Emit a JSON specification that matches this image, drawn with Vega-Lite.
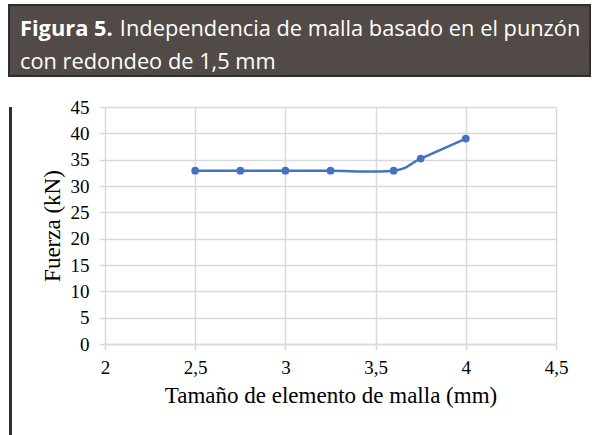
{
  "$schema": "https://vega.github.io/schema/vega-lite/v6.json",
  "background": "#ffffff",
  "padding": {"left": 8, "top": 4, "right": 0, "bottom": 0},
  "spacing": 0,
  "bounds": "full",
  "config": {"view": {"stroke": null}},
  "vconcat": [
    {
      "width": 581,
      "height": 71,
      "data": {"values": [{"bloque": "encabezado"}]},
      "mark": {"type": "rect", "fill": "#524a46", "stroke": "#2e2e2e", "strokeWidth": 2},
      "title": {
        "text": "Figura 5.",
        "subtitle": ["\u200b\u00a0\u00a0\u00a0\u00a0\u00a0\u00a0\u00a0\u00a0\u00a0\u00a0\u00a0\u00a0\u00a0\u00a0\u00a0\u00a0\u00a0\u2009Independencia de malla basado en el punzón", "con redondeo de 1,5 mm"],
        "orient": "top",
        "anchor": "start",
        "frame": "group",
        "offset": -70,
        "dx": 11,
        "font": "Open Sans",
        "fontSize": 21.8,
        "fontWeight": "bold",
        "color": "#ffffff",
        "subtitleFont": "Open Sans",
        "subtitleFontSize": 21.8,
        "subtitleFontWeight": "normal",
        "subtitleColor": "#ffffff",
        "subtitleLineHeight": 33.5,
        "subtitlePadding": -21.8
      }
    },
    {
      "spacing": 29,
      "align": "none",
      "hconcat": [
        {
          "width": 3,
          "height": 360,
          "data": {"values": [{"bloque": "borde"}]},
          "mark": {"type": "rect", "fill": "#2e2e2e"}
        },
        {
          "width": 451,
          "height": 237,
          "data": {"values": [
            {"tamano": 2.5, "fuerza": 32.9},
            {"tamano": 2.75, "fuerza": 32.9},
            {"tamano": 3.0, "fuerza": 32.9},
            {"tamano": 3.25, "fuerza": 32.9},
            {"tamano": 3.6, "fuerza": 32.9},
            {"tamano": 3.75, "fuerza": 35.2},
            {"tamano": 4.0, "fuerza": 39.0}
          ]},
          "encoding": {
            "y": {
              "field": "fuerza", "type": "quantitative",
              "scale": {"domain": [0, 45], "nice": false},
              "axis": {
                "title": "Fuerza (kN)",
                "values": [0, 5, 10, 15, 20, 25, 30, 35, 40, 45],
                "grid": true, "gridColor": "#d9d9d9", "gridWidth": 1.5,
                "domain": false,
                "ticks": true, "tickColor": "#d9d9d9", "tickSize": 6, "tickWidth": 1.5,
                "labelFont": "Liberation Serif", "labelFontSize": 19, "labelColor": "#000000", "labelPadding": 10,
                "labelFlush": false, "labelOverlap": false,
                "titleFont": "Liberation Serif", "titleFontSize": 23, "titleFontWeight": "normal", "titleColor": "#000000", "titlePadding": 6
              }
            }
          },
          "resolve": {"axis": {"x": "independent"}},
          "layer": [
            {
              "mark": {"type": "line", "interpolate": "cardinal", "color": "#4472c4", "strokeWidth": 2.5},
              "encoding": {
                "x": {
                  "field": "tamano", "type": "quantitative",
                  "scale": {"domain": [2, 4.5], "nice": false, "zero": false},
                  "axis": {
                    "title": "Tamaño de elemento de malla (mm)",
                    "values": [2, 2.5, 3, 3.5, 4, 4.5],
                    "labelExpr": "replace(format(datum.value, ''), '.', ',')",
                    "grid": true, "gridColor": "#d9d9d9", "gridWidth": 1.5,
                    "domain": true, "domainColor": "#d9d9d9", "domainWidth": 1.5,
                    "ticks": true, "tickColor": "#d9d9d9", "tickSize": 6, "tickWidth": 1.5,
                    "labelFont": "Liberation Serif", "labelFontSize": 19, "labelColor": "#000000", "labelPadding": 8,
                    "labelFlush": false, "labelOverlap": false,
                    "titleFont": "Liberation Serif", "titleFontSize": 23, "titleFontWeight": "normal", "titleColor": "#000000", "titlePadding": 7
                  }
                }
              }
            },
            {
              "mark": {"type": "point", "filled": true, "color": "#4472c4", "size": 60, "opacity": 1},
              "encoding": {
                "x": {
                  "field": "tamano", "type": "quantitative",
                  "axis": {
                    "orient": "top", "title": null, "labels": false, "grid": false, "domain": false,
                    "values": [3],
                    "ticks": true, "tickColor": "#ffffff", "tickSize": 29, "tickWidth": 0.5
                  }
                }
              }
            }
          ]
        }
      ]
    }
  ]
}
